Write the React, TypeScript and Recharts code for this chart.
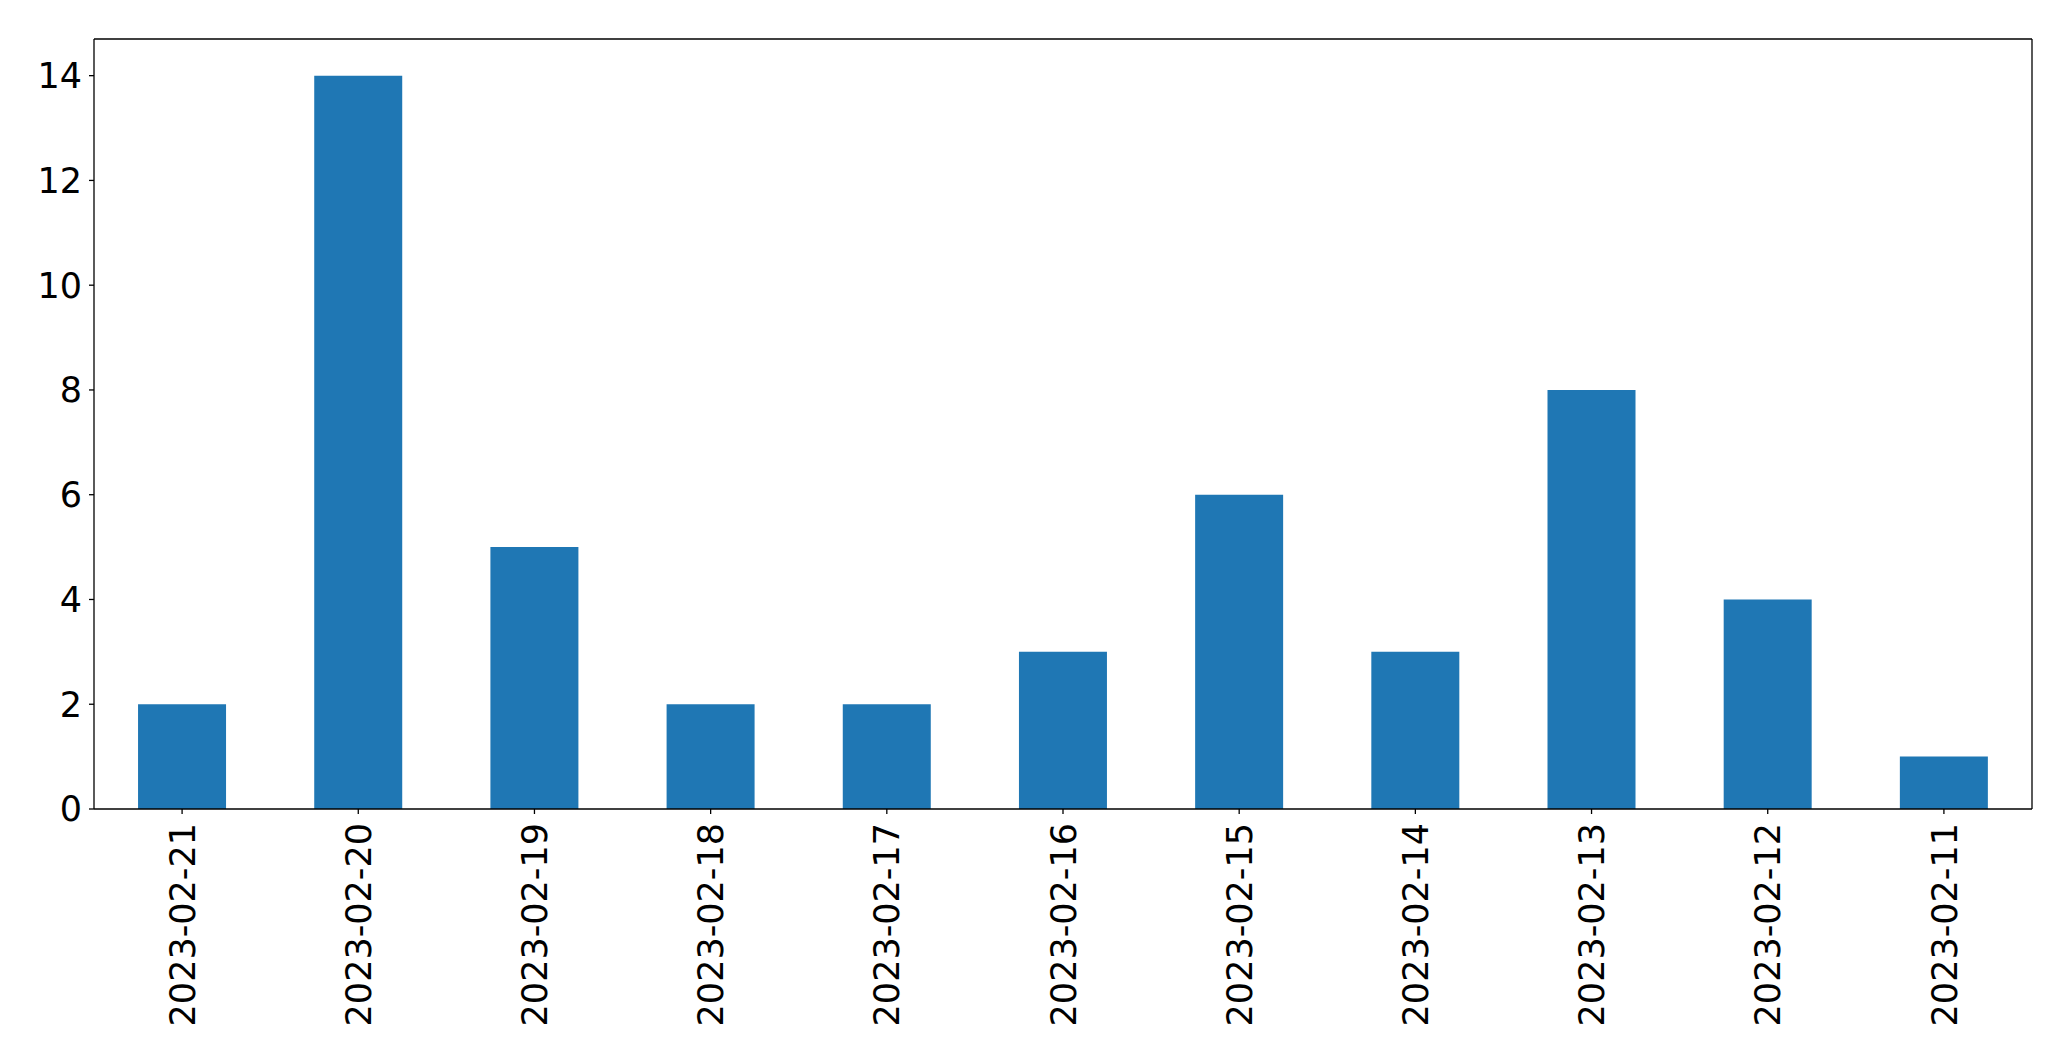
import React from 'react';
import { BarChart, Bar, XAxis, YAxis } from 'recharts';

// dates as they appear left to right (descending)
const dates = [
  '2023-02-21', '2023-02-20', '2023-02-19', '2023-02-18', '2023-02-17', '2023-02-16',
  '2023-02-15', '2023-02-14', '2023-02-13', '2023-02-12', '2023-02-11',
];
const counts = [2, 14, 5, 2, 2, 3, 6, 3, 8, 4, 1];
const yTicks = [0, 2, 4, 6, 8, 10, 12, 14];

const data = dates.map((d, i) => ({ date: d, count: counts[i] }));

const FONT = '"DejaVu Sans", sans-serif';
const BAR_COLOR = '#1f77b4';

const DateTick = (props: any) => {
  const { x, y, payload } = props;
  return (
    <g transform={`translate(${x},${y})`}>
      <text
        transform="rotate(-90)"
        x={-9}
        y={0}
        dy="0.36em"
        textAnchor="end"
        fontSize={35}
        fontFamily={FONT}
        fill="#000"
      >
        {payload.value}
      </text>
    </g>
  );
};

export default function App() {
  return (
    <div style={{ position: 'absolute', left: 0, top: 0, width: 2071, height: 1061, background: '#fff' }}>
      <BarChart
        width={2071}
        height={1061}
        data={data}
        margin={{ top: 38, right: 38, left: 0, bottom: 0 }}
        barCategoryGap="25%"
      >
        <XAxis
          dataKey="date"
          height={252}
          interval={0}
          tick={<DateTick />}
          tickSize={5}
          tickMargin={0}
          axisLine={{ stroke: '#000', strokeWidth: 1.3 }}
          tickLine={{ stroke: '#000', strokeWidth: 1.3 }}
        />
        <XAxis
          xAxisId="top"
          dataKey="date"
          orientation="top"
          height={1}
          tick={false}
          tickLine={false}
          axisLine={{ stroke: '#000', strokeWidth: 1.3 }}
        />
        <YAxis
          width={94}
          domain={[0, 14.7]}
          ticks={yTicks}
          interval={0}
          tickSize={5}
          tickMargin={7}
          tick={{ fontSize: 35, fontFamily: FONT, fill: '#000' }}
          axisLine={{ stroke: '#000', strokeWidth: 1.3 }}
          tickLine={{ stroke: '#000', strokeWidth: 1.3 }}
        />
        <YAxis
          yAxisId="right"
          orientation="right"
          width={1}
          domain={[0, 14.7]}
          tick={false}
          tickLine={false}
          axisLine={{ stroke: '#000', strokeWidth: 1.3 }}
        />
        <Bar dataKey="count" fill={BAR_COLOR} isAnimationActive={false} />
      </BarChart>
    </div>
  );
}
